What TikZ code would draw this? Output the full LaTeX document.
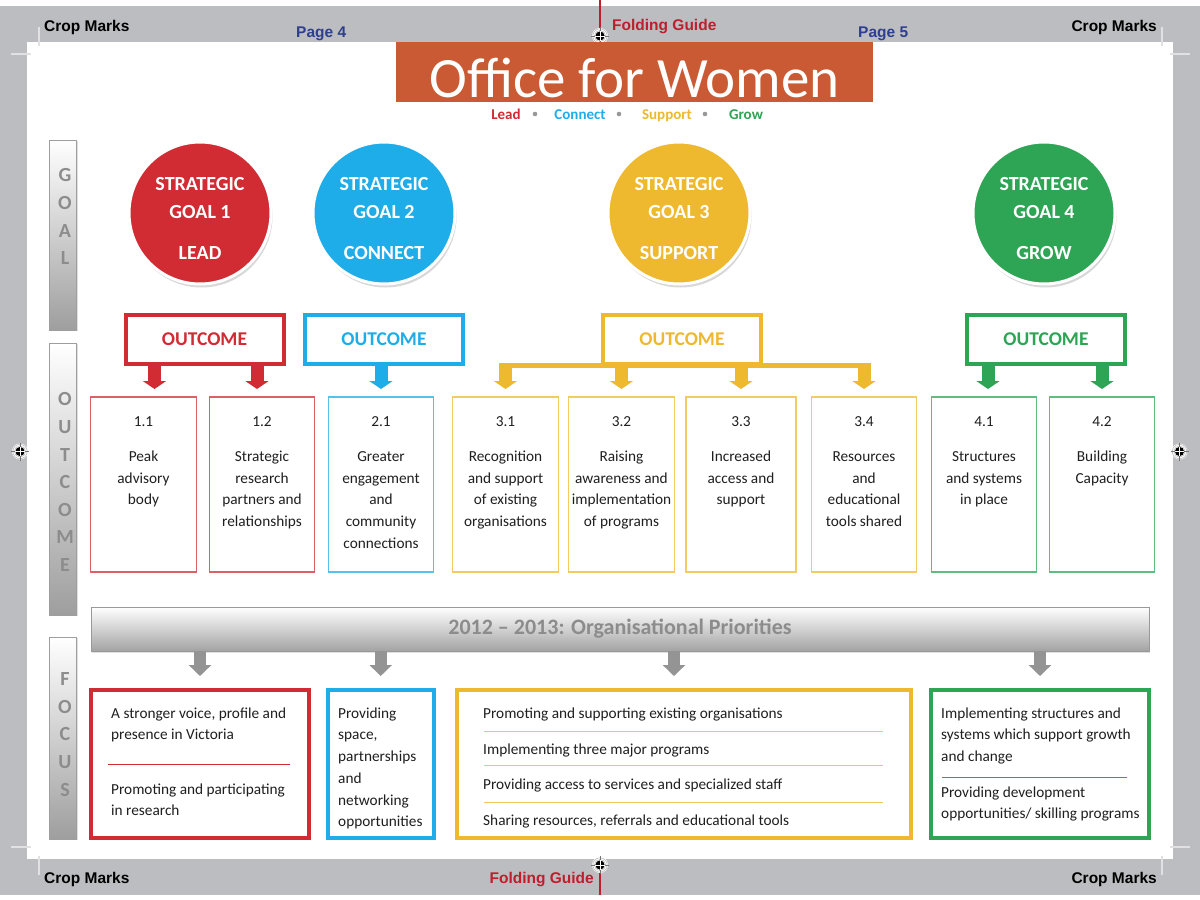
\documentclass[tikz,border=0pt]{standalone}
\usepackage{fontspec}
\setmainfont{Carlito}
\newfontfamily\arialfont{Liberation Sans}
\usetikzlibrary{positioning, arrows.meta, shadows}

\definecolor{lead}{HTML}{D12B34}
\definecolor{connect}{HTML}{1EADE8}
\definecolor{support}{HTML}{EEB92F}
\definecolor{grow}{HTML}{2EA455}
\definecolor{orng}{HTML}{C95A33}
\definecolor{navy}{HTML}{2E3F8E}
\definecolor{fold}{HTML}{BE1E2D}
\definecolor{bleed}{HTML}{BCBDC0}

\begin{document}
\begin{tikzpicture}[
  x=1pt, y=-1pt,
  font=\fontsize{15.3}{21.7}\selectfont,
  cropmk/.style={font=\arialfont\bfseries\fontsize{15.5}{18}\selectfont, inner sep=0},
  cropln/.style={draw=white!55!bleed, line width=1.2},
  regmark/.pic={
    \fill[white] (0,0) circle (8);
    \draw[black!30, line width=0.5] (0,0) circle (7.2) (0,0) circle (5.6);
    \draw[black!55, line width=0.5] (-9,0) -- (9,0) (0,-9) -- (0,9);
    \fill[black] (0,0) circle (4.6);
    \draw[white, line width=0.4] (-4.6,0) -- (4.6,0) (0,-4.6) -- (0,4.6);
  },
  banner/.style={fill=orng, text=white, inner sep=0, minimum width=477,
                 minimum height=59.5, font=\fontsize{57}{60}\selectfont,
                 text height=50.5pt, text depth=0pt},
  tagl/.style={font=\bfseries\fontsize{15}{18}\selectfont, inner sep=0, anchor=base},
  sidebar/.style={draw=black!38, line width=0.8, top color=white, bottom color=black!38,
                  minimum width=27, inner sep=0,
                  drop shadow={shadow xshift=1pt, shadow yshift=-1pt, opacity=0.25}},
  sidetxt/.style={align=center, inner sep=0, text=black!45, xshift=2pt,
                  font=\bfseries\fontsize{20}{27.6}\selectfont},
  goal/.style={circle, draw=white, line width=3, fill=#1, minimum size=142,
               drop shadow={shadow xshift=1.5pt, shadow yshift=-3.5pt, opacity=0.3}},
  gtxt/.style={align=center, text=white, yshift=-5.5pt,
               font=\bfseries\fontsize{20}{28}\selectfont},
  obox/.style={draw=#1, text=#1, fill=white, line width=4, minimum width=158,
               minimum height=48.5, font=\bfseries\fontsize{19.5}{22}\selectfont},
  oarr/.style={draw=#1, line width=13, -{Triangle[width=23pt, length=8pt]},
               shorten >=7.4pt},
  ybar/.style={draw=support, line width=5, shorten <=-6.5pt, shorten >=-6.5pt},
  ibox/.style={draw=#1, line width=1.2, minimum width=105.5, minimum height=175,
               inner sep=0},
  itxt/.style={align=center, inner sep=0, text=black!88},
  prio/.style={draw=black!40, line width=0.8, top color=white, bottom color=black!36,
               minimum width=1058, minimum height=44, text=black!45,
               font=\bfseries\fontsize{22}{26}\selectfont,
               drop shadow={shadow xshift=1pt, shadow yshift=-1.5pt, opacity=0.25}},
  garr/.style={draw=black!42, line width=12, -{Triangle[width=22pt, length=11pt]},
               shorten >=12pt},
  fbox/.style={draw=#1, line width=4, minimum height=148, inner sep=0},
  ftxt/.style={align=left, inner sep=0, text=black!88},
  sepline/.style={draw=#1, line width=0.9},
]
\useasboundingbox (0,0) rectangle (1200,900);
% ---- sheet, bleed and crop marks ----
\fill[white] (0,0) rectangle (1200,900);
\fill[bleed] (0,6) rectangle (1200,895);
\fill[white] (27,42) rectangle (1173,859);
\draw[cropln] (39,27) -- (39,46) (11,54) -- (31,54);
\draw[cropln] (1162,27) -- (1162,46) (1170,54) -- (1190,54);
\draw[cropln] (39,856) -- (39,875) (11,847) -- (31,847);
\draw[cropln] (1162,856) -- (1162,875) (1170,847) -- (1190,847);
\draw[fold, line width=1.2] (600,0) -- (600,30);
\draw[fold, line width=1.2] (600,872) -- (600,895);
\pic at (600,36) {regmark};
\pic at (600,865) {regmark};
\pic at (20,451.5) {regmark};
\pic at (1179.5,451.5) {regmark};
\node[cropmk, anchor=base west] (cm1) at (44,31) {Crop Marks};
\node[cropmk, anchor=base east] (cm2) at (1157,31) {Crop Marks};
\node[cropmk, anchor=base west] (cm3) at (44,883) {Crop Marks};
\node[cropmk, anchor=base east] (cm4) at (1157,883) {Crop Marks};
\node[cropmk, text=navy, anchor=base west] (pg4) at (296,37) {Page 4};
\node[cropmk, text=navy, anchor=base west] (pg5) at (858,37) {Page 5};
\node[cropmk, text=fold, anchor=base west] (fold1) at (612,30.4) {Folding Guide};
\node[cropmk, text=fold, anchor=base east] (fold2) at (594,883.4) {Folding Guide};
% ---- title ----
\node[banner] (title) at (634.5,71.75) {Office for Women};
\node[tagl, text=lead] (tLead) at (506,119) {Lead};
\node[tagl, text=connect] (tConn) at (580,119) {Connect};
\node[tagl, text=support] (tSupp) at (667,119) {Support};
\node[tagl, text=grow] (tGrow) at (746,119) {Grow};
\fill[black!40] (535,114) circle (2.3) (619,114) circle (2.3) (705,114) circle (2.3);
% ---- side bars ----
\node[sidebar, minimum height=190] (sg) at (63,235) {};
\node[sidetxt, below=29pt of sg.north] (sgl) {G\\O\\A\\L};
\node[sidebar, minimum height=272] (so) at (63,479) {};
\node[sidetxt, below=50pt of so.north] (sol) {O\\U\\T\\C\\O\\M\\E};
\node[sidebar, minimum height=202] (sf) at (63,738) {};
\node[sidetxt, below=36pt of sf.north] (sfl) {F\\O\\C\\U\\S};
% ---- strategic goals ----
\node[goal=lead, label={[gtxt]center:{STRATEGIC\\GOAL 1\\[13pt]LEAD}}] (g1) at (200,213) {};
\node[goal=connect, label={[gtxt]center:{STRATEGIC\\GOAL 2\\[13pt]CONNECT}}] (g2) at (384,213) {};
\node[goal=support, label={[gtxt]center:{STRATEGIC\\GOAL 3\\[13pt]SUPPORT}}] (g3) at (679,213) {};
\node[goal=grow, label={[gtxt]center:{STRATEGIC\\GOAL 4\\[13pt]GROW}}] (g4) at (1044,213) {};
% ---- outcomes ----
\node[obox=lead] (o1) at (204.5,339.25) {OUTCOME};
\node[obox=connect] (o2) at (384,339.25) {OUTCOME};
\node[obox=support] (o3) at (682,339.25) {OUTCOME};
\node[obox=grow] (o4) at (1046,339.25) {OUTCOME};
\node[ibox=lead!75] (i11) at (143.5,484.5) {};
\node[ibox=lead!75] (i12) at (262,484.5) {};
\node[ibox=connect!75] (i21) at (381,484.5) {};
\node[ibox=support!75] (i31) at (505.5,484.5) {};
\node[ibox=support!75] (i32) at (621.5,484.5) {};
\node[ibox=support!75, minimum width=110] (i33) at (741,484.5) {};
\node[ibox=support!75] (i34) at (864,484.5) {};
\node[ibox=grow!75] (i41) at (984,484.5) {};
\node[ibox=grow!75] (i42) at (1102,484.5) {};
\node[itxt, below=20pt of i11.north] (l11) {1.1\\[13.3pt]Peak\\advisory\\body};
\node[itxt, below=20pt of i12.north] (l12) {1.2\\[13.3pt]Strategic\\research\\partners and\\relationships};
\node[itxt, below=20pt of i21.north] (l21) {2.1\\[13.3pt]Greater\\engagement\\and\\community\\connections};
\node[itxt, below=20pt of i31.north] (l31) {3.1\\[13.3pt]Recognition\\and support\\of existing\\organisations};
\node[itxt, below=20pt of i32.north] (l32) {3.2\\[13.3pt]Raising\\awareness and\\implementation\\of programs};
\node[itxt, below=20pt of i33.north] (l33) {3.3\\[13.3pt]Increased\\access and\\support};
\node[itxt, below=20pt of i34.north] (l34) {3.4\\[13.3pt]Resources\\and\\educational\\tools shared};
\node[itxt, below=20pt of i41.north] (l41) {4.1\\[13.3pt]Structures\\and systems\\in place};
\node[itxt, below=20pt of i42.north] (l42) {4.2\\[13.3pt]Building\\Capacity};
% ---- outcome arrows ----
\draw[oarr=lead] ([xshift=11pt]i11.north |- o1.south) -- ([xshift=11pt]i11.north);
\draw[oarr=lead] ([xshift=-5pt]i12.north |- o1.south) -- ([xshift=-5pt]i12.north);
\draw[oarr=connect] (i21.north |- o2.south) -- (i21.north);
\draw[ybar] (i31.north |- o3.south) -- (i34.north |- o3.south);
\draw[oarr=support] (i31.north |- o3.south) -- (i31.north);
\draw[oarr=support] (i32.north |- o3.south) -- (i32.north);
\draw[oarr=support] (i33.north |- o3.south) -- (i33.north);
\draw[oarr=support] (i34.north |- o3.south) -- (i34.north);
\draw[oarr=grow] ([xshift=4pt]i41.north |- o4.south) -- ([xshift=4pt]i41.north);
\draw[oarr=grow] (i42.north |- o4.south) -- (i42.north);
% ---- priorities and focus ----
\node[prio] (prio) at (620,629) {2012 -- 2013: Organisational Priorities};
\node[fbox=lead, minimum width=218] (fc1) at (200,764) {};
\node[fbox=connect, minimum width=106] (fc2) at (380.7,764) {};
\node[fbox=support, minimum width=454] (fc3) at (684,764) {};
\node[fbox=grow, minimum width=217.4] (fc4) at (1040,764) {};
\draw[garr] (prio.south -| fc1.north) -- (fc1.north);
\draw[garr] (prio.south -| fc2.north) -- (fc2.north);
\draw[garr] ([xshift=-10pt]fc3.north |- prio.south) -- ([xshift=-10pt]fc3.north);
\draw[garr] (prio.south -| fc4.north) -- (fc4.north);
\node[ftxt, below right=19.4pt and 22pt of fc1.north west] (t1a) {A stronger voice, profile and\\presence in Victoria};
\node[ftxt, below right=95.4pt and 22pt of fc1.north west] (t1b) {Promoting and participating\\in research};
\node[ftxt, below right=19.4pt and 12.3pt of fc2.north west] (t2a) {Providing\\space,\\partnerships\\and\\networking\\opportunities};
\node[ftxt, below right=19.4pt and 28pt of fc3.north west] (t3a) {Promoting and supporting existing organisations};
\node[ftxt, below right=55.4pt and 28pt of fc3.north west] (t3b) {Implementing three major programs};
\node[ftxt, below right=90.4pt and 28pt of fc3.north west] (t3c) {Providing access to services and specialized staff};
\node[ftxt, below right=126.4pt and 28pt of fc3.north west] (t3d) {Sharing resources, referrals and educational tools};
\node[ftxt, below right=19.4pt and 11.7pt of fc4.north west] (t4a) {Implementing structures and\\systems which support growth\\and change};
\node[ftxt, below right=98.4pt and 11.7pt of fc4.north west] (t4b) {Providing development\\opportunities/ skilling programs};
\draw[sepline=lead] (108,764.5) -- (290,764.5);
\draw[sepline=support!80] (484,731.5) -- (883,731.5) (484,765) -- (883,765) (484,802) -- (883,802);
\draw[sepline=grow] (942,777.5) -- (1127,777.5);
\end{tikzpicture}
\end{document}
